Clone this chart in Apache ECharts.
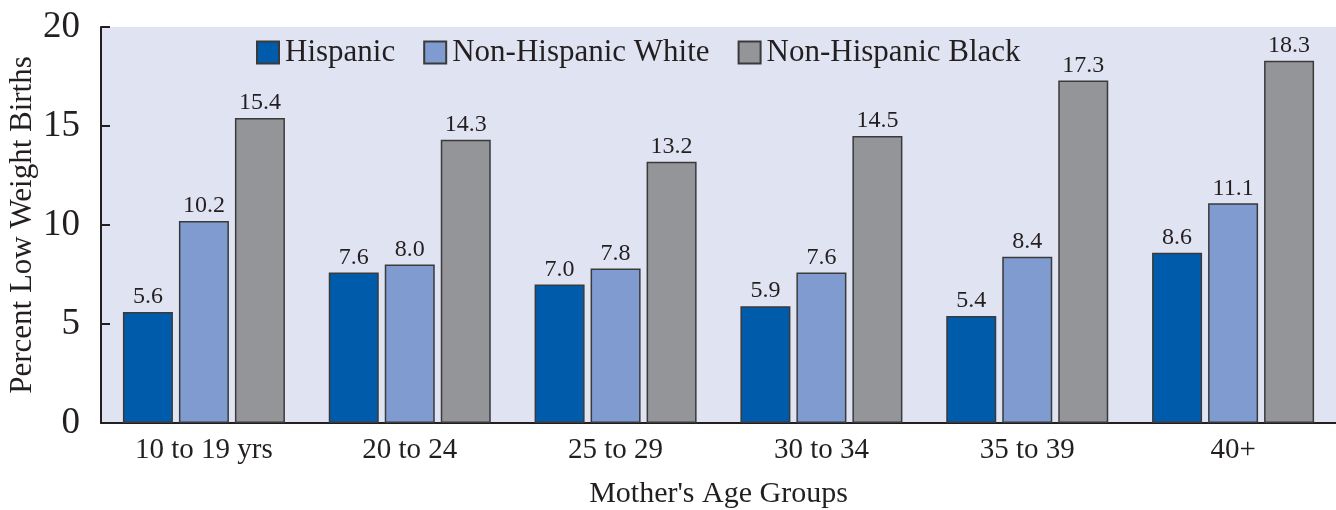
<!DOCTYPE html>
<html><head><meta charset="utf-8">
<script src="https://cdn.jsdelivr.net/npm/echarts@6/dist/echarts.min.js"></script>
<style>html,body{margin:0;padding:0;background:#fff}#c{width:1336px;height:510px}</style>
</head><body><div id="c"></div>
<script>
const categories = ['10 to 19 yrs','20 to 24','25 to 29','30 to 34','35 to 39','40+'];
const hispanic = [5.6, 7.6, 7.0, 5.9, 5.4, 8.6];
const nonHispWhite = [10.2, 8.0, 7.8, 7.6, 8.4, 11.1];
const nonHispBlack = [15.4, 14.3, 13.2, 14.5, 17.3, 18.3];
const yTicks = [0, 5, 10, 15, 20];

const FONT = '"Liberation Serif", "DejaVu Serif", serif';
const TXT = '#231f20';
const chart = echarts.init(document.getElementById('c'));
function s(name, data, color){
  return {name, type:'bar', data, barWidth:50, barGap:'12%',
    itemStyle:{color, borderColor:'#3a3a3a', borderWidth:1.5},
    label:{show:true, position:'top', distance:3, fontFamily:FONT, fontSize:24, color:TXT,
      formatter:p=>p.value.toFixed(1)}};
}
chart.setOption({
  animation:false,
  grid:{left:101, top:27, right:0, bottom:87, show:true, backgroundColor:'#e0e3f2', borderWidth:0,
    containLabel:false, outerBoundsMode:'none'},
  legend:{left:251, top:32, itemWidth:22, itemHeight:22, itemGap:28, icon:'rect',
    textStyle:{fontFamily:FONT, fontSize:31, color:TXT, padding:[0,0,0,1]},
    data:['Hispanic','Non-Hispanic White','Non-Hispanic Black']},
  xAxis:{type:'category', data:categories,
    axisLine:{lineStyle:{color:'#231f20', width:2}},
    axisTick:{inside:true, length:8, lineStyle:{color:'#231f20', width:2}},
    axisLabel:{fontFamily:FONT, fontSize:29, color:TXT, margin:13},
    name:"Mother's Age Groups", nameLocation:'middle', nameGap:56, nameMoveOverlap:false,
    nameTextStyle:{fontFamily:FONT, fontSize:30, color:TXT}},
  yAxis:{type:'value', min:yTicks[0], max:yTicks[yTicks.length-1], interval:5,
    axisLine:{show:true, lineStyle:{color:'#231f20', width:2}},
    axisTick:{show:true, inside:true, length:9, lineStyle:{color:'#231f20', width:2}},
    splitLine:{show:false},
    axisLabel:{fontFamily:FONT, fontSize:37, color:TXT, margin:21},
    name:'Percent Low Weight Births', nameLocation:'middle', nameGap:63, nameMoveOverlap:false,
    nameTextStyle:{fontFamily:FONT, fontSize:31, color:TXT}},
  series:[
    s('Hispanic', hispanic, '#005baa'),
    s('Non-Hispanic White', nonHispWhite, '#7f9bcf'),
    s('Non-Hispanic Black', nonHispBlack, '#949599')
  ]
});
</script></body></html>
